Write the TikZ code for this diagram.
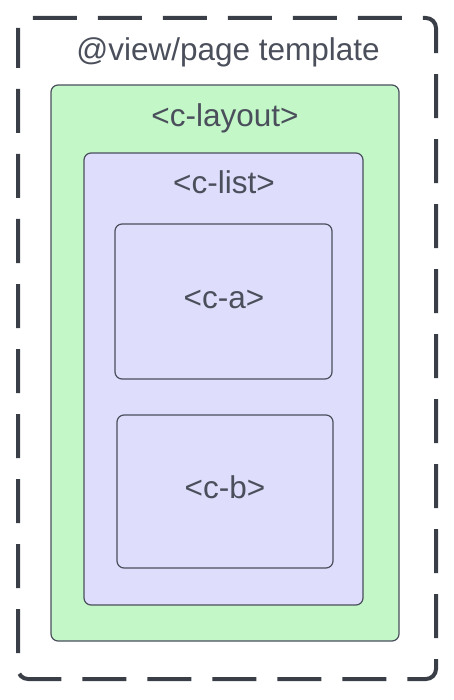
\documentclass[tikz,border=0pt]{standalone}
\usepackage{fontspec}
\setmainfont{Liberation Sans}
\definecolor{outline}{HTML}{3A3E46}
\definecolor{edge}{HTML}{4A4F5B}
\definecolor{label}{HTML}{4A4F5B}
\definecolor{layoutgreen}{HTML}{C3F7C8}
\definecolor{listblue}{HTML}{DEDEFC}
\tikzset{
  box/.style={draw=edge, line width=1.2pt, rounded corners=7pt},
  tag/.style={anchor=base, text=label, font=\fontsize{31.5}{38}\selectfont, inner sep=0pt}
}
\begin{document}
\begin{tikzpicture}[x=1pt, y=-1pt]
    \useasboundingbox (0,0) rectangle (454,700) ;
    \draw [color=outline, line width=4pt, dash pattern=on 44pt off 21pt, dash phase=4pt, rounded corners=10pt] (18,18) rectangle (436,679) ;
    \node [tag] (view) at (228,61) {@view/page template} ;

    \draw [box, fill=layoutgreen] (51,85) rectangle (399,641) ;
    \node [tag] (layout) at (225,126.5) {<c-layout>} ;

    \draw [box, fill=listblue] (84,153) rectangle (363,605) ;
    \node [tag] (list) at (224,194) {<c-list>} ;

    \draw [box, fill=listblue] (115,224) rectangle (332,379) ;
    \node [tag] (ca) at (224,308.5) {<c-a>} ;

    \draw [box, fill=listblue] (117,415) rectangle (333,568) ;
    \node [tag] (cb) at (225,498.5) {<c-b>} ;
\end{tikzpicture}
\end{document}
